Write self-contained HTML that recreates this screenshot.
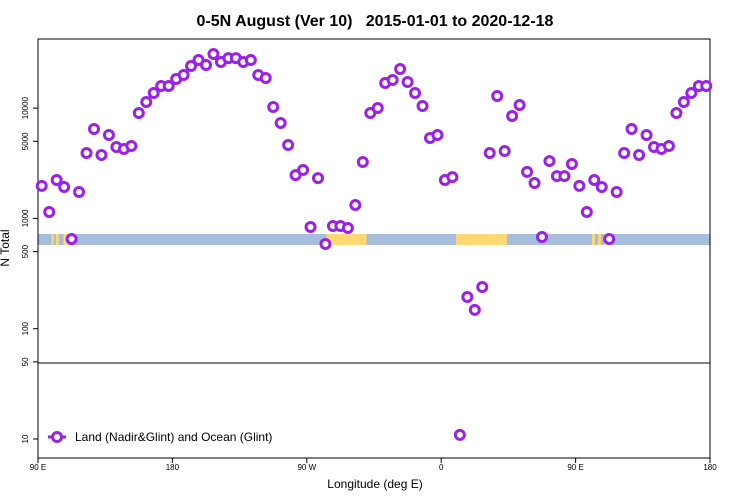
<!DOCTYPE html>
<html><head><meta charset="utf-8"><style>
body{margin:0;background:#fff;}
svg{display:block;font-family:"Liberation Sans",sans-serif;}
</style></head><body>
<svg id="chart" width="750" height="500" viewBox="0 0 750 500">
<text x="375" y="26" text-anchor="middle" font-size="16" font-weight="bold" style="white-space:pre">0-5N August (Ver 10)   2015-01-01 to 2020-12-18</text>
<g id="band"></g>
<line x1="38" y1="363" x2="710" y2="363" stroke="#000" stroke-width="1"/>
<rect x="38" y="39" width="672" height="419" fill="none" stroke="#000" stroke-width="1"/>
<g id="axes"></g>
<g id="points"></g>
<text x="375" y="488" text-anchor="middle" font-size="12">Longitude (deg E)</text>
<text transform="translate(9,248) rotate(-90)" text-anchor="middle" font-size="12">N Total</text>
<g>
<line x1="48" y1="437" x2="66" y2="437" stroke="#9B20EA" stroke-width="3"/>
<circle cx="57" cy="437" r="4.5" fill="#fff" stroke="#9B20EA" stroke-width="3"/>
<text x="75" y="441" font-size="12">Land (Nadir&amp;Glint) and Ocean (Glint)</text>
</g>
</svg>
<script>
const lons=[];for(let i=0;i<90;i++)lons.push(92.5+5*i);
const values=[1970,1143,2230,1927,650,1735,3917,6470,3757,5700,4440,4260,4530,9030,11350,13700,15850,15850,
18360,19950,24100,27300,24600,30900,26200,28400,28400,26200,27300,19950,18750,10230,7330,4630,2470,2750,
836,2320,586,853,853,818,1323,3245,9030,10020,16900,18000,22600,17260,13700,10450,5360,5700,2230,2370,
10.9,194,148,239,3917,12880,4080,8480,10670,2640,2094,678,3310,2420,2420,3110,
1970,1143,2230,1927,650,1735,3917,6470,3757,5700,4440,4260,4530,9030,11350,13700,15850,15850];
const xTickVals=[90,180,270,360,450,540];
const xTickLabels=["90 E","180","90 W","0","90 E","180"];
const yTickVals=[10,50,100,500,1000,5000,10000];
const yTickLabels=["10","50","100","500","1000","5000","10000"];
const landSegs=[[99,100.5],[102,104],[107,110],[283,310],[370,404],[461,463],[465,467],[469,473]];
const NS="http://www.w3.org/2000/svg";
function xs(l){return 38+(l-90)*672/450;}
function ys(v){return 439-(Math.log10(v)-1)*110.3;}
function mk(t,a,p){const e=document.createElementNS(NS,t);for(const k in a)e.setAttribute(k,a[k]);p.appendChild(e);return e;}
const band=document.getElementById('band');
mk('rect',{x:38,y:234,width:672,height:11,fill:'#A6BDDB'},band);
landSegs.forEach(s=>{const r=mk('rect',{x:xs(s[0]),y:234,width:xs(s[1])-xs(s[0]),height:11,fill:'#FDD874'},band);

});
const ax=document.getElementById('axes');
xTickVals.forEach((v,i)=>{const x=xs(v);mk('line',{x1:x,y1:458,x2:x,y2:463,stroke:'#000'},ax);
const t=mk('text',{x:x,y:470,'text-anchor':'middle','font-size':8},ax);t.textContent=xTickLabels[i];

});
yTickVals.forEach((v,i)=>{const y=ys(v);mk('line',{x1:33,y1:y,x2:38,y2:y,stroke:'#000'},ax);
const t=mk('text',{'text-anchor':'middle','font-size':8,transform:`translate(28,${y}) rotate(-90)`},ax);t.textContent=yTickLabels[i];

});
const pg=document.getElementById('points');
lons.forEach((l,i)=>{const c=mk('circle',{cx:xs(l),cy:ys(values[i]),r:4.5,fill:'#fff',stroke:'#9B20EA','stroke-width':3},pg);

});
</script>
</body></html>
